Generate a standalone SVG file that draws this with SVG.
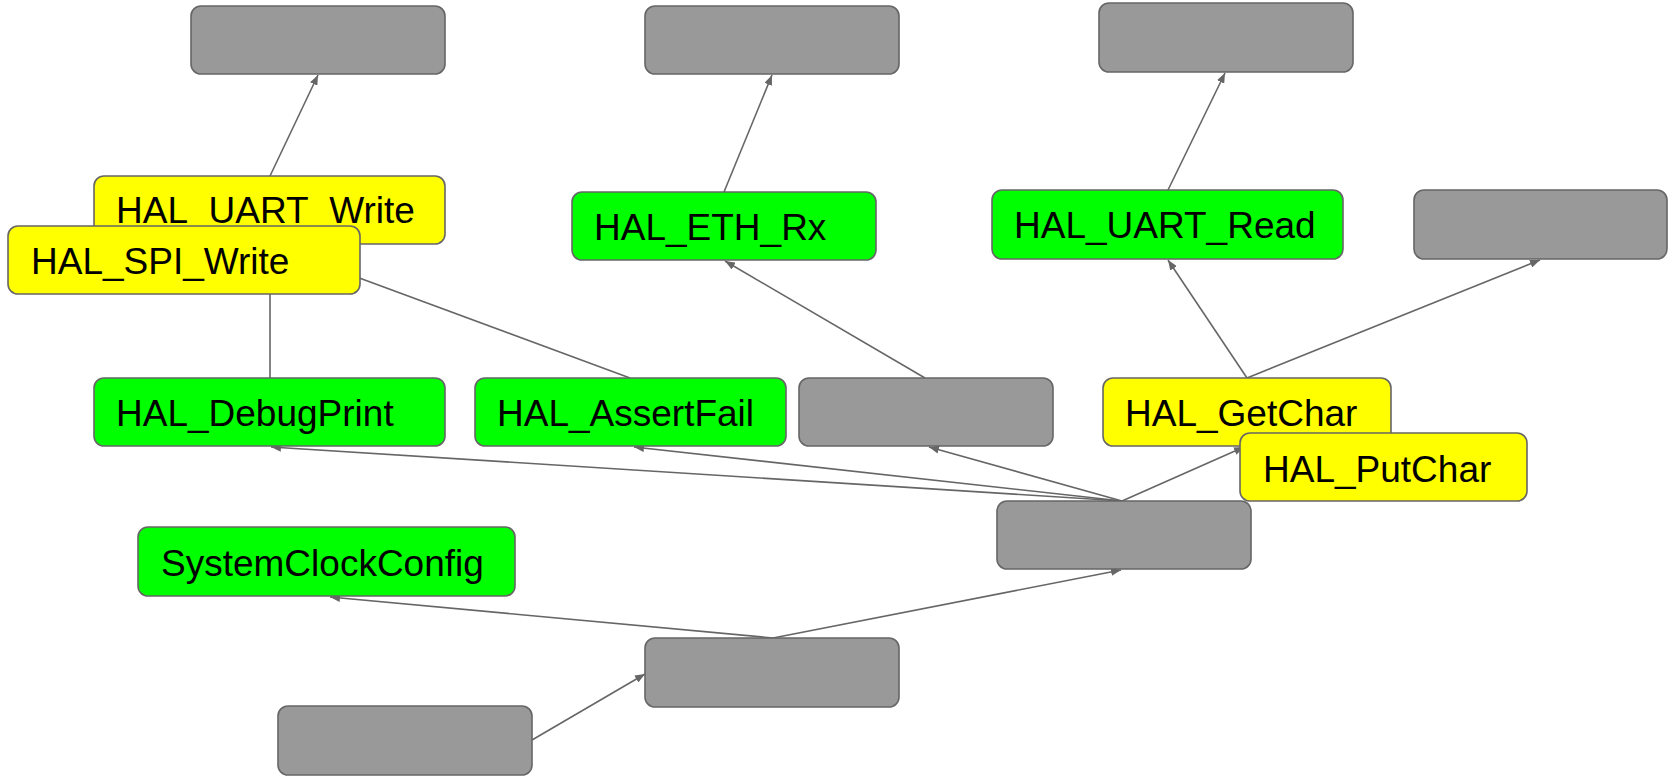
<svg xmlns="http://www.w3.org/2000/svg" width="1669" height="778" viewBox="0 0 1669 778">
  <style>
    .node rect { stroke: #666666; stroke-width: 1.6; }
    .gray rect { fill: #999999; }
    .green rect { fill: #00ff00; }
    .yellow rect { fill: #ffff00; }
    .node text { font-family: "Liberation Sans", Arial, sans-serif; font-size: 37px; fill: #000000; }
    .edges line { stroke: #666666; stroke-width: 1.6; fill: none; }
  </style>
  <defs>
    <marker id="arrow" viewBox="0 0 10 8" refX="10" refY="4" markerWidth="10" markerHeight="8" markerUnits="userSpaceOnUse" orient="auto">
      <path d="M0,0 L10,4 L0,8 z" fill="#666666"/>
    </marker>
  </defs>
  <rect width="1669" height="778" fill="#ffffff"/>

  <!-- connectors are drawn beneath the nodes -->
  <g id="edges" class="edges" marker-end="url(#arrow)">
    <line x1="270" y1="176" x2="318" y2="75" marker-end="url(#arrow)"/>
    <line x1="724" y1="192" x2="772" y2="75" marker-end="url(#arrow)"/>
    <line x1="1168" y1="190" x2="1225" y2="73" marker-end="url(#arrow)"/>
    <line x1="270" y1="378" x2="270" y2="245" marker-end="url(#arrow)"/>
    <line x1="630" y1="378" x2="270" y2="245" marker-end="url(#arrow)"/>
    <line x1="925" y1="378" x2="725" y2="261" marker-end="url(#arrow)"/>
    <line x1="1247" y1="378" x2="1168" y2="260" marker-end="url(#arrow)"/>
    <line x1="1247" y1="378" x2="1540" y2="260" marker-end="url(#arrow)"/>
    <line x1="1122" y1="501" x2="271" y2="447" marker-end="url(#arrow)"/>
    <line x1="1122" y1="501" x2="634" y2="447" marker-end="url(#arrow)"/>
    <line x1="1122" y1="501" x2="929" y2="447" marker-end="url(#arrow)"/>
    <line x1="1122" y1="501" x2="1244" y2="447" marker-end="url(#arrow)"/>
    <line x1="773" y1="638" x2="330" y2="597" marker-end="url(#arrow)"/>
    <line x1="773" y1="638" x2="1121" y2="570" marker-end="url(#arrow)"/>
    <line x1="532" y1="740" x2="645" y2="674" marker-end="url(#arrow)"/>
  </g>

  <g id="top-left" class="node gray"><rect x="191" y="6" width="254" height="68" rx="10"/></g>
  <g id="top-middle" class="node gray"><rect x="645" y="6" width="254" height="68" rx="10"/></g>
  <g id="top-right" class="node gray"><rect x="1099" y="3" width="254" height="69" rx="10"/></g>

  <g id="hal-uart-write" class="node yellow">
    <rect x="94" y="176" width="351" height="68" rx="10"/>
    <text x="116" y="223">HAL_UART_Write</text>
  </g>
  <g id="hal-spi-write" class="node yellow">
    <rect x="8" y="226" width="352" height="68" rx="10"/>
    <text x="31" y="274">HAL_SPI_Write</text>
  </g>
  <g id="hal-eth-rx" class="node green">
    <rect x="572" y="192" width="304" height="68" rx="10"/>
    <text x="594" y="240">HAL_ETH_Rx</text>
  </g>
  <g id="hal-uart-read" class="node green">
    <rect x="992" y="190" width="351" height="69" rx="10"/>
    <text x="1014" y="238">HAL_UART_Read</text>
  </g>
  <g id="right-gray" class="node gray"><rect x="1414" y="190" width="253" height="69" rx="10"/></g>

  <g id="hal-debugprint" class="node green">
    <rect x="94" y="378" width="351" height="68" rx="10"/>
    <text x="116" y="426">HAL_DebugPrint</text>
  </g>
  <g id="hal-assertfail" class="node green">
    <rect x="475" y="378" width="311" height="68" rx="10"/>
    <text x="497" y="426">HAL_AssertFail</text>
  </g>
  <g id="middle-gray" class="node gray"><rect x="799" y="378" width="254" height="68" rx="10"/></g>
  <g id="hal-getchar" class="node yellow">
    <rect x="1103" y="378" width="288" height="68" rx="10"/>
    <text x="1125" y="426">HAL_GetChar</text>
  </g>
  <g id="hal-putchar" class="node yellow">
    <rect x="1240" y="433" width="287" height="68" rx="10"/>
    <text x="1263" y="482">HAL_PutChar</text>
  </g>

  <g id="hub" class="node gray"><rect x="997" y="501" width="254" height="68" rx="10"/></g>
  <g id="systemclockconfig" class="node green">
    <rect x="138" y="527" width="377" height="69" rx="10"/>
    <text x="161" y="576">SystemClockConfig</text>
  </g>
  <g id="root" class="node gray"><rect x="645" y="638" width="254" height="69" rx="10"/></g>
  <g id="entry" class="node gray"><rect x="278" y="706" width="254" height="69" rx="10"/></g>
</svg>
